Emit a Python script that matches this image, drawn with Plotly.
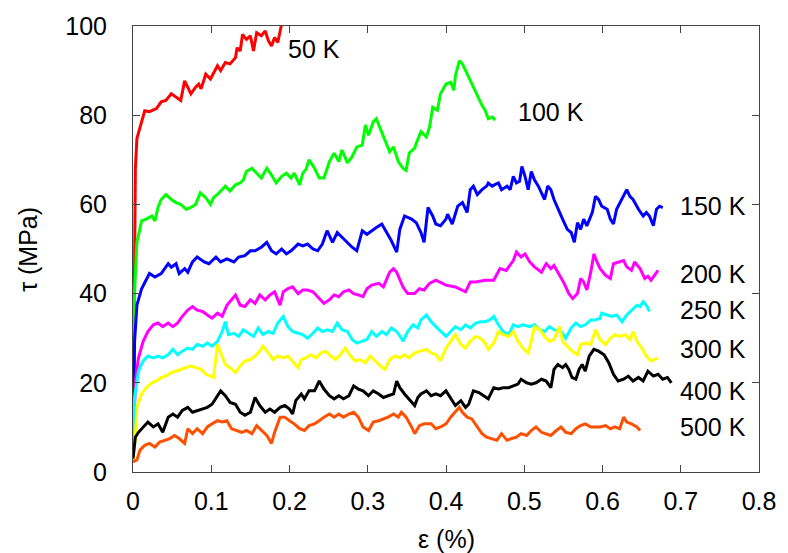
import plotly.graph_objects as go

# Shear stress vs. strain curves at several temperatures
eps_50 = [0.000, 0.001, 0.002, 0.003, 0.005, 0.011, 0.015, 0.021, 0.030, 0.036, 0.042, 0.049, 0.055, 0.061,
          0.066, 0.074, 0.080, 0.084, 0.087, 0.093, 0.099, 0.108, 0.112, 0.118, 0.124, 0.131, 0.133, 0.137,
          0.140, 0.145, 0.150, 0.154, 0.158, 0.164, 0.169, 0.173, 0.177, 0.181, 0.185, 0.188, 0.190]
tau_50 = [2.0, 30.0, 55.0, 68.0, 74.8, 78.5, 81.0, 80.8, 81.5, 83.0, 83.3, 84.8, 84.0, 83.3,
          87.7, 84.8, 86.3, 87.0, 85.9, 89.2, 88.1, 91.1, 90.0, 91.8, 91.5, 92.9, 95.1, 94.4,
          98.1, 97.0, 97.8, 94.4, 98.5, 97.8, 98.9, 96.7, 95.5, 97.4, 96.3, 98.9, 100.5]

eps_100 = [0.000, 0.001, 0.002, 0.005, 0.011, 0.017, 0.024, 0.028, 0.032, 0.036, 0.042, 0.049, 0.055, 0.061,
           0.068, 0.074, 0.080, 0.086, 0.093, 0.099, 0.103, 0.110, 0.118, 0.124, 0.131, 0.137, 0.141, 0.145,
           0.152, 0.158, 0.164, 0.171, 0.177, 0.183, 0.190, 0.196, 0.202, 0.206, 0.213, 0.217, 0.221, 0.225,
           0.232, 0.238, 0.244, 0.251, 0.257, 0.263, 0.267, 0.274, 0.280, 0.286, 0.293, 0.297, 0.301, 0.307,
           0.311, 0.316, 0.322, 0.328, 0.333, 0.339, 0.345, 0.349, 0.353, 0.360, 0.362, 0.368, 0.375, 0.379,
           0.383, 0.389, 0.393, 0.400, 0.406, 0.410, 0.412, 0.417, 0.421, 0.427, 0.433, 0.440, 0.446, 0.450,
           0.454, 0.459, 0.463]
tau_100 = [2.0, 25.0, 40.4, 51.5, 56.3, 56.7, 57.4, 56.3, 59.3, 61.1, 62.2, 61.1, 60.4, 60.0,
           58.9, 59.3, 60.0, 62.6, 61.5, 60.0, 61.5, 62.6, 64.1, 63.0, 64.4, 64.8, 65.5, 67.4,
           68.1, 67.0, 65.9, 68.1, 66.6, 64.8, 66.3, 67.0, 65.9, 67.0, 64.4, 67.0, 67.8, 70.0,
           68.1, 65.9, 65.9, 69.6, 71.5, 69.6, 72.2, 69.3, 70.7, 72.9, 73.3, 77.8, 75.5, 78.5,
           79.2, 77.0, 74.4, 71.8, 72.9, 69.6, 68.1, 67.6, 71.5, 72.6, 73.7, 76.3, 75.1, 77.4,
           81.8, 81.1, 84.8, 87.0, 87.4, 85.6, 88.8, 92.2, 91.5, 89.2, 87.0, 84.1, 82.2, 81.1,
           79.2, 79.6, 78.9]

eps_150 = [0.000, 0.001, 0.002, 0.005, 0.011, 0.021, 0.028, 0.036, 0.045, 0.049, 0.055, 0.059, 0.066, 0.070,
           0.076, 0.082, 0.091, 0.097, 0.106, 0.112, 0.120, 0.129, 0.135, 0.143, 0.150, 0.156, 0.164, 0.171,
           0.177, 0.183, 0.190, 0.196, 0.202, 0.211, 0.217, 0.223, 0.230, 0.236, 0.242, 0.248, 0.255, 0.261,
           0.267, 0.274, 0.280, 0.286, 0.293, 0.299, 0.305, 0.311, 0.318, 0.324, 0.330, 0.337, 0.341, 0.347,
           0.356, 0.362, 0.368, 0.372, 0.377, 0.383, 0.387, 0.393, 0.400, 0.402, 0.408, 0.415, 0.421, 0.427,
           0.431, 0.435, 0.440, 0.446, 0.452, 0.454, 0.459, 0.463, 0.467, 0.471, 0.478, 0.482, 0.486, 0.490,
           0.494, 0.497, 0.501, 0.505, 0.509, 0.513, 0.518, 0.522, 0.526, 0.530, 0.534, 0.538, 0.543, 0.549,
           0.555, 0.560, 0.564, 0.568, 0.572, 0.576, 0.580, 0.587, 0.591, 0.595, 0.599, 0.606, 0.610, 0.614,
           0.618, 0.625, 0.631, 0.635, 0.639, 0.646, 0.652, 0.656, 0.660, 0.665, 0.669, 0.673, 0.677]
tau_150 = [2.0, 18.0, 29.3, 37.4, 41.1, 44.5, 43.7, 44.5, 46.7, 45.9, 46.7, 44.5, 45.6, 44.8,
           47.1, 48.2, 47.1, 46.7, 48.2, 47.1, 47.8, 47.1, 48.2, 48.5, 49.6, 49.6, 50.4, 51.5,
           49.6, 48.9, 50.0, 48.9, 49.6, 51.1, 50.7, 51.1, 50.0, 49.6, 51.1, 54.1, 51.5, 53.7,
           52.6, 51.5, 50.4, 49.6, 54.1, 53.3, 54.1, 54.8, 55.6, 53.7, 51.9, 49.3, 54.4, 57.4,
           56.7, 55.9, 53.7, 51.5, 59.3, 57.4, 55.6, 55.2, 56.7, 57.8, 55.6, 59.6, 60.4, 58.2,
           63.3, 64.1, 62.2, 63.3, 64.1, 64.8, 64.1, 64.5, 64.8, 63.3, 64.1, 63.3, 66.3, 64.8,
           65.2, 68.5, 66.3, 63.3, 67.4, 65.5, 64.1, 62.6, 61.1, 64.1, 63.3, 61.1, 58.9, 56.7,
           54.4, 53.7, 51.5, 55.9, 54.4, 56.7, 55.2, 58.2, 61.8, 61.1, 59.6, 58.9, 56.7, 55.6,
           58.9, 61.1, 63.3, 61.8, 61.1, 58.9, 57.4, 58.2, 57.4, 55.2, 58.9, 59.6, 59.3]

eps_200 = [0.000, 0.001, 0.003, 0.007, 0.013, 0.019, 0.026, 0.032, 0.038, 0.045, 0.051, 0.057, 0.063, 0.070,
           0.076, 0.082, 0.089, 0.095, 0.101, 0.108, 0.114, 0.120, 0.124, 0.131, 0.137, 0.143, 0.150, 0.156,
           0.162, 0.169, 0.175, 0.181, 0.188, 0.192, 0.198, 0.204, 0.211, 0.217, 0.223, 0.230, 0.236, 0.244,
           0.251, 0.257, 0.263, 0.269, 0.276, 0.282, 0.288, 0.294, 0.299, 0.305, 0.314, 0.320, 0.328, 0.333,
           0.337, 0.345, 0.351, 0.360, 0.366, 0.372, 0.379, 0.387, 0.400, 0.412, 0.425, 0.431, 0.438, 0.450,
           0.461, 0.469, 0.477, 0.486, 0.490, 0.496, 0.501, 0.507, 0.513, 0.522, 0.528, 0.534, 0.538, 0.545,
           0.551, 0.557, 0.562, 0.568, 0.572, 0.576, 0.580, 0.585, 0.589, 0.593, 0.597, 0.604, 0.610, 0.614,
           0.620, 0.627, 0.631, 0.637, 0.641, 0.648, 0.654, 0.658, 0.662, 0.667, 0.671]
tau_200 = [2.0, 9.3, 20.4, 25.6, 29.3, 31.5, 33.0, 33.4, 32.6, 33.4, 32.6, 33.4, 34.9, 36.3,
           37.1, 36.3, 36.0, 35.2, 34.5, 35.6, 34.9, 37.4, 38.2, 39.7, 37.4, 37.1, 38.6, 37.8,
           39.7, 38.6, 39.7, 40.4, 37.4, 40.4, 41.1, 41.5, 40.0, 40.8, 40.8, 40.4, 39.3, 37.8,
           38.6, 39.7, 39.3, 40.4, 40.8, 40.0, 39.7, 39.3, 41.1, 41.9, 42.3, 41.5, 44.8, 45.6,
           44.8, 41.5, 40.0, 40.0, 41.1, 40.8, 42.3, 43.0, 41.9, 41.5, 40.4, 42.6, 42.6, 43.0,
           43.0, 45.6, 45.2, 47.4, 49.3, 48.2, 48.9, 47.1, 46.0, 44.8, 46.7, 45.6, 46.3, 44.1,
           42.3, 40.0, 38.9, 40.0, 43.4, 42.6, 40.8, 44.8, 48.9, 47.1, 45.6, 44.1, 43.4, 46.7,
           47.1, 47.4, 46.0, 45.2, 47.1, 45.6, 43.4, 43.9, 43.0, 44.1, 45.2]

eps_250 = [0.000, 0.002, 0.007, 0.013, 0.019, 0.026, 0.032, 0.038, 0.045, 0.051, 0.057, 0.063, 0.070, 0.076,
           0.082, 0.089, 0.095, 0.101, 0.108, 0.114, 0.118, 0.122, 0.129, 0.135, 0.141, 0.148, 0.154, 0.160,
           0.166, 0.173, 0.179, 0.185, 0.192, 0.198, 0.204, 0.211, 0.217, 0.223, 0.230, 0.236, 0.242, 0.248,
           0.255, 0.261, 0.267, 0.274, 0.280, 0.286, 0.293, 0.299, 0.305, 0.311, 0.318, 0.324, 0.330, 0.337,
           0.343, 0.345, 0.351, 0.358, 0.364, 0.368, 0.375, 0.381, 0.387, 0.393, 0.400, 0.406, 0.412, 0.419,
           0.425, 0.431, 0.438, 0.444, 0.450, 0.456, 0.461, 0.467, 0.473, 0.480, 0.486, 0.492, 0.498, 0.507,
           0.513, 0.520, 0.526, 0.532, 0.538, 0.547, 0.553, 0.560, 0.566, 0.572, 0.578, 0.585, 0.591, 0.597,
           0.599, 0.606, 0.612, 0.618, 0.625, 0.631, 0.637, 0.644, 0.648, 0.652, 0.656, 0.660]
tau_250 = [2.0, 16.7, 22.6, 24.9, 26.0, 25.6, 26.0, 25.6, 26.3, 27.5, 26.3, 27.1, 27.8, 27.5,
           28.6, 28.2, 28.9, 28.2, 29.3, 31.5, 33.7, 30.8, 31.1, 30.4, 31.9, 31.1, 30.4, 32.3,
           30.8, 31.5, 31.1, 33.4, 34.9, 32.6, 31.5, 31.1, 30.8, 30.0, 31.1, 32.3, 31.5, 31.9,
           31.5, 33.4, 31.9, 31.5, 29.7, 28.9, 29.3, 29.7, 31.5, 30.4, 31.5, 30.8, 32.3, 31.5,
           30.0, 29.3, 31.5, 33.0, 32.3, 34.1, 35.2, 33.7, 32.6, 31.5, 30.4, 31.5, 32.6, 31.9,
           33.0, 32.3, 33.4, 33.7, 33.7, 34.1, 34.9, 33.0, 31.5, 30.8, 33.0, 32.6, 33.0, 32.6,
           33.0, 31.9, 31.5, 32.6, 31.9, 31.5, 30.0, 32.3, 33.4, 32.6, 33.0, 34.1, 34.1, 34.5,
           35.6, 35.2, 34.9, 35.2, 33.7, 35.2, 36.3, 37.4, 37.1, 38.2, 37.4, 36.0]

eps_300 = [0.000, 0.003, 0.005, 0.011, 0.017, 0.024, 0.030, 0.036, 0.042, 0.049, 0.055, 0.061, 0.068, 0.074,
           0.080, 0.087, 0.093, 0.099, 0.103, 0.108, 0.112, 0.118, 0.124, 0.131, 0.137, 0.143, 0.150, 0.156,
           0.162, 0.166, 0.173, 0.179, 0.185, 0.192, 0.198, 0.204, 0.211, 0.215, 0.221, 0.227, 0.234, 0.240,
           0.246, 0.253, 0.259, 0.265, 0.271, 0.278, 0.284, 0.290, 0.297, 0.303, 0.309, 0.316, 0.322, 0.328,
           0.335, 0.341, 0.347, 0.353, 0.360, 0.368, 0.375, 0.381, 0.387, 0.393, 0.400, 0.406, 0.412, 0.419,
           0.425, 0.431, 0.438, 0.444, 0.450, 0.454, 0.461, 0.467, 0.473, 0.480, 0.486, 0.492, 0.498, 0.505,
           0.509, 0.513, 0.520, 0.526, 0.532, 0.538, 0.545, 0.549, 0.555, 0.561, 0.568, 0.572, 0.578, 0.585,
           0.591, 0.597, 0.604, 0.610, 0.616, 0.622, 0.629, 0.635, 0.639, 0.644, 0.650, 0.656, 0.662, 0.667,
           0.671]
tau_300 = [2.0, 7.8, 14.5, 17.5, 18.9, 20.0, 20.4, 21.2, 21.5, 22.3, 22.6, 23.0, 23.4, 23.8,
           23.4, 23.0, 21.9, 21.5, 21.2, 28.6, 26.7, 24.1, 23.4, 22.3, 23.8, 24.9, 25.2, 26.0,
           27.1, 28.2, 26.7, 25.2, 26.0, 25.6, 26.0, 24.9, 23.4, 25.2, 25.6, 26.3, 25.6, 26.7,
           27.1, 26.0, 25.2, 26.3, 27.8, 26.0, 24.9, 25.2, 24.5, 26.0, 24.9, 23.8, 23.0, 25.2,
           26.0, 25.6, 26.3, 25.6, 26.7, 27.1, 27.5, 26.7, 26.3, 24.9, 27.8, 29.3, 30.8, 28.6,
           27.8, 29.3, 30.4, 30.0, 28.9, 27.5, 28.9, 31.5, 30.8, 30.4, 31.5, 29.3, 27.8, 26.7,
           29.3, 32.6, 31.9, 30.4, 29.3, 29.7, 32.6, 29.3, 28.2, 27.1, 26.3, 28.6, 28.9, 28.6,
           31.9, 29.7, 28.6, 30.0, 30.8, 30.4, 30.8, 29.7, 31.5, 29.3, 27.8, 26.0, 24.9, 25.2,
           25.6]

eps_400 = [0.000, 0.003, 0.007, 0.013, 0.019, 0.026, 0.032, 0.038, 0.045, 0.051, 0.057, 0.063, 0.070, 0.076,
           0.082, 0.089, 0.095, 0.101, 0.108, 0.112, 0.118, 0.124, 0.131, 0.137, 0.143, 0.150, 0.156, 0.162,
           0.169, 0.175, 0.181, 0.188, 0.194, 0.200, 0.204, 0.208, 0.215, 0.219, 0.225, 0.232, 0.238, 0.244,
           0.251, 0.257, 0.263, 0.269, 0.276, 0.282, 0.288, 0.294, 0.301, 0.307, 0.314, 0.320, 0.326, 0.333,
           0.337, 0.341, 0.347, 0.353, 0.360, 0.364, 0.368, 0.375, 0.381, 0.387, 0.393, 0.400, 0.406, 0.412,
           0.419, 0.425, 0.429, 0.435, 0.442, 0.448, 0.454, 0.461, 0.467, 0.473, 0.480, 0.486, 0.492, 0.496,
           0.503, 0.509, 0.515, 0.522, 0.528, 0.534, 0.538, 0.543, 0.549, 0.553, 0.557, 0.561, 0.566, 0.570,
           0.574, 0.578, 0.583, 0.589, 0.595, 0.602, 0.608, 0.614, 0.620, 0.627, 0.633, 0.639, 0.646, 0.652,
           0.658, 0.665, 0.671, 0.677, 0.683, 0.688]
tau_400 = [3.0, 7.8, 8.9, 10.1, 11.2, 10.1, 10.8, 8.9, 12.3, 13.0, 12.3, 13.8, 14.5, 13.4,
           13.8, 14.1, 14.5, 15.2, 17.1, 18.2, 17.1, 15.6, 15.2, 13.4, 12.7, 13.4, 16.7, 14.9,
           13.4, 14.1, 13.4, 14.5, 14.9, 14.1, 13.0, 16.0, 17.5, 16.4, 18.2, 18.2, 20.4, 18.6,
           17.1, 16.4, 17.1, 16.4, 17.1, 19.3, 18.6, 18.2, 17.1, 18.2, 17.5, 16.7, 17.1, 17.5,
           20.4, 18.9, 17.5, 16.4, 14.9, 16.7, 17.5, 18.2, 17.1, 17.5, 17.1, 18.2, 16.4, 14.9,
           16.0, 14.5, 15.2, 18.2, 17.8, 17.1, 16.4, 18.9, 18.6, 18.9, 18.9, 19.3, 19.7, 20.8,
           20.0, 19.7, 20.0, 20.8, 20.4, 18.9, 23.0, 24.1, 23.4, 24.1, 23.0, 21.2, 20.8, 23.0,
           24.1, 22.6, 26.0, 27.5, 27.1, 26.3, 24.5, 21.9, 20.4, 20.8, 21.5, 20.4, 21.2, 20.4,
           22.6, 21.5, 21.9, 20.8, 21.2, 20.0]

eps_500 = [0.000, 0.005, 0.009, 0.015, 0.021, 0.028, 0.034, 0.040, 0.047, 0.053, 0.059, 0.066, 0.070, 0.076,
           0.082, 0.089, 0.095, 0.101, 0.108, 0.114, 0.120, 0.126, 0.133, 0.139, 0.145, 0.152, 0.158, 0.164,
           0.171, 0.177, 0.181, 0.188, 0.194, 0.200, 0.206, 0.213, 0.219, 0.225, 0.232, 0.238, 0.244, 0.251,
           0.257, 0.263, 0.269, 0.276, 0.282, 0.288, 0.294, 0.301, 0.307, 0.314, 0.320, 0.326, 0.333, 0.339,
           0.343, 0.349, 0.356, 0.360, 0.366, 0.372, 0.381, 0.387, 0.393, 0.400, 0.406, 0.412, 0.417, 0.421,
           0.427, 0.433, 0.440, 0.446, 0.452, 0.459, 0.465, 0.471, 0.478, 0.484, 0.490, 0.496, 0.503, 0.509,
           0.515, 0.522, 0.528, 0.534, 0.541, 0.547, 0.553, 0.560, 0.566, 0.572, 0.578, 0.585, 0.591, 0.597,
           0.604, 0.610, 0.616, 0.622, 0.627, 0.631, 0.637, 0.644, 0.648]
tau_500 = [2.3, 2.7, 4.9, 6.0, 6.4, 5.6, 6.7, 7.1, 7.5, 8.2, 7.5, 6.4, 9.7, 8.6,
           9.7, 8.6, 10.1, 10.8, 11.5, 11.2, 11.5, 9.7, 9.3, 8.9, 9.3, 8.6, 10.4, 9.3,
           8.2, 6.4, 8.9, 12.3, 12.3, 11.5, 10.8, 9.7, 9.3, 10.4, 10.8, 11.5, 12.3, 13.0,
           12.3, 13.0, 12.3, 13.0, 13.4, 12.3, 10.1, 9.3, 11.2, 11.5, 11.9, 12.3, 13.0, 12.3,
           13.4, 12.3, 10.1, 8.6, 10.4, 10.8, 10.8, 9.7, 10.1, 10.8, 12.3, 13.4, 14.5, 13.4,
           12.3, 11.9, 10.1, 8.6, 7.8, 7.5, 7.1, 8.6, 7.1, 7.5, 7.8, 8.6, 8.2, 9.3,
           10.1, 8.9, 8.6, 8.2, 9.3, 10.1, 8.9, 8.6, 9.7, 10.4, 10.8, 10.1, 10.1, 10.1,
           10.4, 9.7, 10.1, 9.7, 12.3, 11.2, 10.8, 10.1, 9.3]

temperatures = ["50 K", "100 K", "150 K", "200 K", "250 K", "300 K", "400 K", "500 K"]
colors = ["#ff0000", "#00ff00", "#0000ff", "#ff00ff", "#00ffff", "#ffff00", "#000000", "#ff5000"]
series = [(eps_50, tau_50), (eps_100, tau_100), (eps_150, tau_150), (eps_200, tau_200),
          (eps_250, tau_250), (eps_300, tau_300), (eps_400, tau_400), (eps_500, tau_500)]

# label anchor positions (strain, stress) for each temperature tag
label_eps = [0.196, 0.490, 0.697, 0.697, 0.697, 0.697, 0.697, 0.697]
label_tau = [94.8, 80.8, 59.6, 44.5, 36.3, 27.5, 18.2, 10.1]

x_ticks = [0, 0.1, 0.2, 0.3, 0.4, 0.5, 0.6, 0.7, 0.8]
x_ticktext = ["0", "0.1", "0.2", "0.3", "0.4", "0.5", "0.6", "0.7", "0.8"]
y_ticks = [0, 20, 40, 60, 80, 100]

FONT = "Liberation Sans, Arial, Helvetica, sans-serif"
FSIZE = 25

fig = go.Figure()
for (x, y), c, name in zip(series, colors, temperatures):
    fig.add_trace(go.Scatter(x=x, y=y, mode="lines", name=name,
                             line=dict(color=c, width=3)))

for name, lx, ly in zip(temperatures, label_eps, label_tau):
    fig.add_annotation(x=lx, y=ly, text=name, showarrow=False, xanchor="left", yanchor="middle",
                       font=dict(family=FONT, size=FSIZE, color="#000000"))

axis_common = dict(showline=True, mirror="ticks", linecolor="#444444", linewidth=1,
                   ticks="inside", ticklen=7, tickwidth=1, tickcolor="#444444",
                   showgrid=False, zeroline=False,
                   tickfont=dict(family=FONT, size=FSIZE, color="#000000"))

fig.update_xaxes(range=[0, 0.8], tickvals=x_ticks, ticktext=x_ticktext, ticklabelstandoff=7, **axis_common)
fig.update_yaxes(range=[0, 100], tickvals=y_ticks, ticklabelstandoff=20, **axis_common)

fig.add_annotation(xref="paper", yref="paper", x=0.5, y=-0.151, text="ε (%)", showarrow=False,
                   xanchor="center", yanchor="middle", font=dict(family=FONT, size=FSIZE, color="#000000"))
fig.add_annotation(xref="paper", yref="paper", x=-0.168, y=0.5, text="τ (MPa)", showarrow=False,
                   textangle=-90, xanchor="center", yanchor="middle",
                   font=dict(family=FONT, size=FSIZE, color="#000000"))

fig.update_layout(width=788, height=553, margin=dict(l=133, r=21, t=21, b=81),
                  paper_bgcolor="white", plot_bgcolor="white", showlegend=False)

fig.write_html("out.html")
